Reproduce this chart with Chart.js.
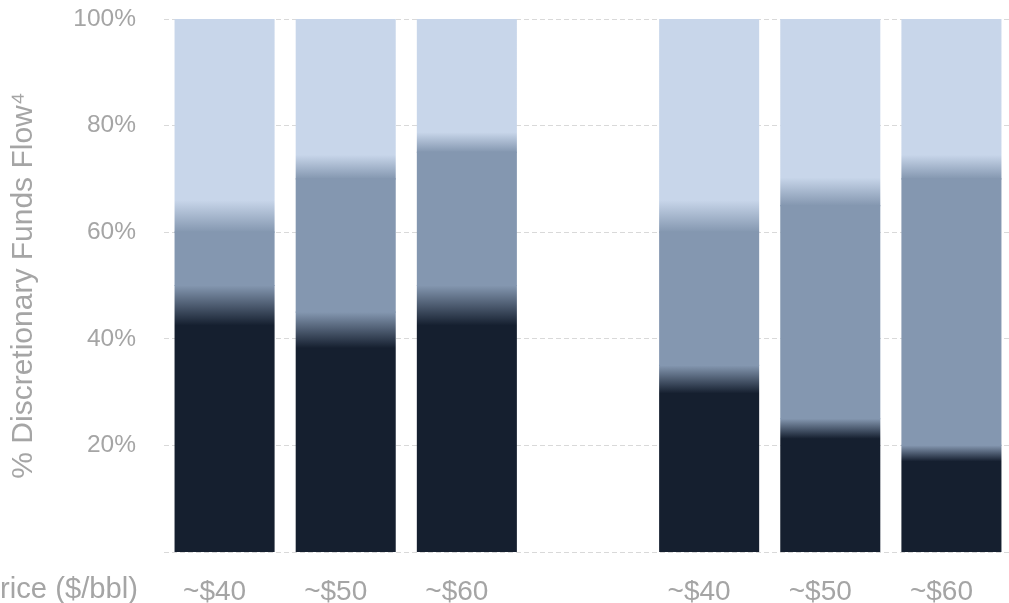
<!DOCTYPE html>
<html><head><meta charset="utf-8">
<script src="https://cdn.jsdelivr.net/npm/chart.js@4"></script>
<style>html,body{margin:0;padding:0;background:#fff;overflow:hidden}</style>
</head><body>
<canvas id="c" width="1009" height="603"></canvas>
<script>
const categories = ["~$40", "~$50", "~$60", "", "~$40", "~$50", "~$60"];
const bottomShare = [50, 45, 50, null, 35, 25, 20];
const middleShare = [10, 25, 25, null, 25, 40, 50];
const topShare = [40, 30, 25, null, 40, 35, 30];
const yTickValues = [0, 20, 40, 60, 80, 100];
const xAxisTitle = "Oil Price ($/bbl)";
const yAxisTitle = "% Discretionary Funds Flow\u2074";

const DARK = "#151f2f", MID = "#8497b0", LIGHT = "#c8d6ea", TEXT = "#a5a5a5";
const FONT = "'Liberation Sans', Arial, sans-serif";
const AREA = { left: 164, right: 1012, top: 19, bottom: 552 };

function okNums() { return Array.prototype.every.call(arguments, v => Number.isFinite(v)); }

function darkFill(ctx) {
  const chart = ctx.chart, y = chart.scales && chart.scales.y;
  if (!y || ctx.type !== 'data') return DARK;
  const v = bottomShare[ctx.dataIndex];
  if (v == null) return DARK;
  const top = y.getPixelForValue(v), base = y.getPixelForValue(0);
  if (!okNums(top, base) || top === base) return DARK;
  const g = chart.ctx.createLinearGradient(0, top, 0, base);
  g.addColorStop(0, MID);
  g.addColorStop(0.15, DARK);
  g.addColorStop(1, DARK);
  return g;
}
function lightFill(ctx) {
  const chart = ctx.chart, y = chart.scales && chart.scales.y;
  if (!y || ctx.type !== 'data') return LIGHT;
  const b = bottomShare[ctx.dataIndex], m = middleShare[ctx.dataIndex], t = topShare[ctx.dataIndex];
  if (b == null) return LIGHT;
  const base = y.getPixelForValue(b + m), top = y.getPixelForValue(b + m + t);
  if (!okNums(top, base) || top === base) return LIGHT;
  const g = chart.ctx.createLinearGradient(0, base, 0, top);
  g.addColorStop(0, MID);
  g.addColorStop(0.15, LIGHT);
  g.addColorStop(1, LIGHT);
  return g;
}

// pin the plot area to the reference geometry (it runs slightly past the right edge)
const areaPlugin = {
  id: 'area',
  afterLayout(chart) {
    const x = chart.scales.x, y = chart.scales.y, ca = chart.chartArea;
    x.left = AREA.left; x.right = AREA.right; x.width = AREA.right - AREA.left; x.top = AREA.bottom;
    y.top = AREA.top; y.bottom = AREA.bottom; y.height = AREA.bottom - AREA.top; y.right = AREA.left;
    x.configure(); y.configure();
    ca.left = AREA.left; ca.right = AREA.right; ca.top = AREA.top; ca.bottom = AREA.bottom;
    ca.width = AREA.right - AREA.left; ca.height = AREA.bottom - AREA.top;
  }
};

const xTitlePlugin = {
  id: 'xTitle',
  afterDraw(chart) {
    const c = chart.ctx;
    c.save();
    c.font = "28px " + FONT;
    const w = c.measureText("rice ($/bbl)").width;
    const size = Math.max(26, Math.min(32, 28 * 138 / w));
    c.font = size + "px " + FONT;
    c.fillStyle = TEXT;
    c.textAlign = 'right';
    c.textBaseline = 'alphabetic';
    c.fillText(xAxisTitle, 138, 598);
    c.restore();
  }
};

const common = { categoryPercentage: 1, barPercentage: 0.816, borderWidth: 0, inflateAmount: 0.6, stack: 's' };

const chart = new Chart(document.getElementById('c'), {
  type: 'bar',
  data: {
    labels: categories,
    datasets: [
      Object.assign({ label: 'Bottom', data: bottomShare, backgroundColor: darkFill }, common),
      Object.assign({ label: 'Middle', data: middleShare, backgroundColor: MID }, common),
      Object.assign({ label: 'Top', data: topShare, backgroundColor: lightFill }, common)
    ]
  },
  options: {
    responsive: false,
    animation: false,
    devicePixelRatio: 1,
    layout: { padding: { top: 0, right: 0, left: 0, bottom: 0 } },
    plugins: { legend: { display: false }, tooltip: { enabled: false } },
    scales: {
      x: {
        stacked: true,
        offset: true,
        grid: { display: false },
        border: { display: false },
        ticks: { color: TEXT, font: { family: FONT, size: 28 }, padding: 15, labelOffset: -10, maxRotation: 0, autoSkip: false },
        afterFit(s) { s.height = 51; }
      },
      y: {
        stacked: true,
        min: 0, max: 100,
        afterBuildTicks(s) { s.ticks = yTickValues.map(v => ({ value: v })); },
        ticks: {
          color: TEXT, font: { family: FONT, size: 24.5 }, padding: 28,
          callback: v => v === 0 ? '' : v + '%'
        },
        grid: { color: '#d9d9d9', lineWidth: 1, drawTicks: false },
        border: { display: false, dash: [5, 3] },
        title: { display: true, text: yAxisTitle, color: TEXT, font: { family: FONT, size: 30 }, padding: { top: 6, bottom: 0 } },
        afterFit(s) { s.width = 164; }
      }
    }
  },
  plugins: [areaPlugin, xTitlePlugin]
});
chart.update();
</script>
</body></html>
